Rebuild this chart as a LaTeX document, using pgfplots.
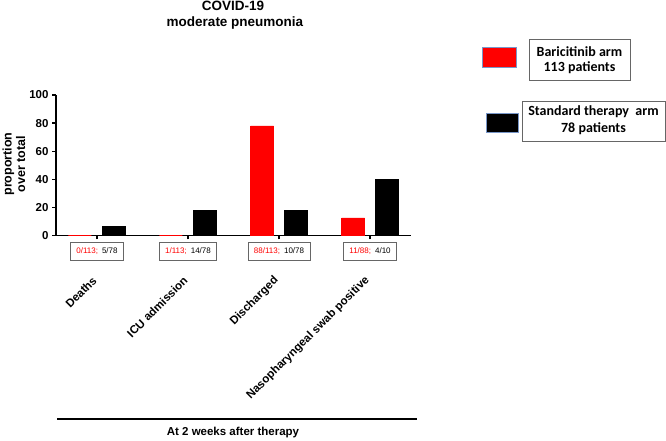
\documentclass[border=0pt]{standalone}
\usepackage{pgfplots}
\pgfplotsset{compat=1.18}
\usepackage{fontspec}
\setmainfont{Liberation Sans}
\newfontfamily\calfont{Carlito}
\definecolor{boxgray}{gray}{0.4}
\definecolor{swatchedge}{RGB}{120,150,200}
\begin{document}
\begin{tikzpicture}
\path[use as bounding box] (0,0) rectangle (666pt,-440pt);
\begin{axis}[
  at={(56pt,-235.3pt)}, anchor=south west,
  scale only axis, width=355pt, height=140.3pt,
  xmin=-0.45, xmax=3.45, ymin=0, ymax=100,
  axis x line=bottom, axis y line=left,
  axis line style={-, line width=1.3pt, black},
  ybar, bar width=23pt,
  xtick={0,1,2,3},
  xticklabels={Deaths, ICU admission, Discharged, Nasopharyngeal swab positive},
  xticklabel style={rotate=45, anchor=east, font=\fontsize{11.5}{13}\selectfont\bfseries},
  xticklabel shift=37pt,
  ytick={0,20,40,60,80,100},
  yticklabel style={font=\fontsize{11.5}{13}\selectfont\bfseries},
  /pgf/number format/assume math mode=true,
  tick align=outside, major tick length=4pt,
  tick style={line width=1.2pt, black},
  clip=false,
]
\addplot[fill=red, draw=red, bar shift=-17pt] coordinates {(0,0) (1,0) (2,78) (3,12.4)};
\addplot[fill=black, draw=black, bar shift=17pt] coordinates {(0,6.4) (1,17.9) (2,17.9) (3,39.8)};
\foreach \i/\r/\b in {0/0\slash113;/5\slash78, 1/1\slash113;/14\slash78, 2/88\slash113;/10\slash78, 3/11\slash88;/4\slash10}{
  \edef\tmp{\noexpand\node[draw=boxgray, line width=0.8pt, fill=white, inner xsep=6pt, minimum height=18pt, font=\noexpand\fontsize{8}{9}\noexpand\selectfont, yshift=-16pt] at (axis cs:\i,0) {\noexpand\textcolor{red}{\r}\noexpand\hspace{4pt}\b};}
  \tmp
}
\end{axis}
% title
\node[font=\fontsize{13.5}{15}\selectfont\bfseries] at (233pt,-6pt) {COVID-19};
\node[font=\fontsize{13.5}{15}\selectfont\bfseries] at (235pt,-23pt) {moderate pneumonia};
% y label
\node[rotate=90, align=center, font=\fontsize{12.5}{13.5}\selectfont\bfseries] at (14pt,-164pt) {proportion\\over total};
% bottom line and caption
\draw[line width=1.8pt] (57pt,-419pt) -- (417pt,-419pt);
\node[font=\fontsize{11.5}{13}\selectfont\bfseries] at (233pt,-433pt) {At 2 weeks after therapy};
% legend
\draw[swatchedge, line width=0.5pt, fill=red] (482pt,-47pt) rectangle (516pt,-67pt);
\draw[boxgray, line width=0.8pt] (529pt,-39pt) rectangle (630pt,-80pt);
\node[font=\calfont\fontsize{14}{16}\selectfont\bfseries] at (579.5pt,-52pt) {Baricitinib arm};
\node[font=\calfont\fontsize{14}{16}\selectfont\bfseries] at (579.5pt,-68pt) {113 patients};
\draw[swatchedge, line width=0.5pt, fill=black] (486pt,-113pt) rectangle (518pt,-132pt);
\draw[boxgray, line width=0.8pt] (522pt,-101pt) rectangle (665pt,-141pt);
\node[font=\calfont\fontsize{14}{16}\selectfont\bfseries] at (593.5pt,-112pt) {Standard therapy\ \ arm};
\node[font=\calfont\fontsize{14}{16}\selectfont\bfseries] at (593.5pt,-129pt) {78 patients};
\end{tikzpicture}
\end{document}
